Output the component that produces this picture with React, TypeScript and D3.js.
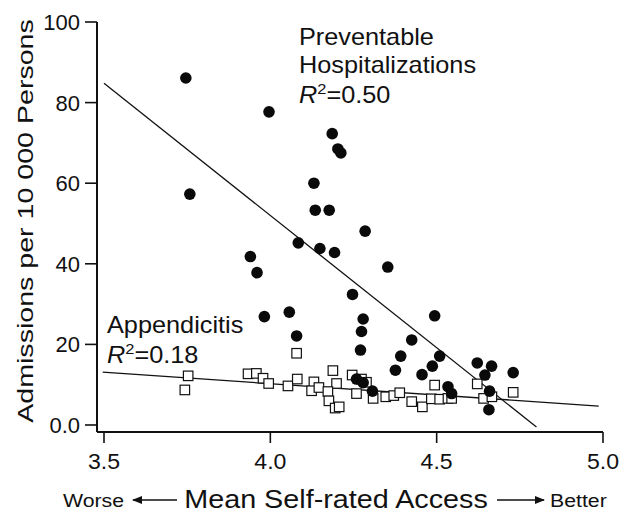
import React from "react";
import * as d3 from "d3";

// axis ticks
const xTicks = [3.5, 4.0, 4.5, 5.0];
const xTickLabels = ["3.5", "4.0", "4.5", "5.0"];
const yTicks = [0, 20, 40, 60, 80, 100];
const yTickLabels = ["0.0", "20", "40", "60", "80", "100"];

// preventable hospitalizations (filled dots)
const hospAccess = [
  3.746, 3.758, 3.996, 4.186, 4.203, 4.212, 4.131, 4.135, 4.177, 4.285,
  4.084, 4.149, 4.193, 3.94, 3.96, 4.247, 3.982, 4.057, 4.079, 4.279,
  4.274, 4.271, 4.259, 4.353, 4.494, 4.425, 4.509, 4.392, 4.487, 4.376,
  4.456, 4.622, 4.665, 4.645, 4.73, 4.279, 4.307, 4.534, 4.545, 4.659,
  4.657,
];
const hospRate = [
  86.1, 57.3, 77.7, 72.3, 68.5, 67.5, 60.0, 53.3, 53.3, 48.1,
  45.2, 43.8, 42.8, 41.8, 37.8, 32.4, 26.9, 28.0, 22.1, 26.3,
  23.2, 18.6, 11.4, 39.2, 27.1, 21.1, 17.1, 17.1, 14.6, 13.6,
  12.5, 15.4, 14.6, 12.4, 13.0, 10.5, 8.4, 9.5, 7.8, 8.4,
  3.8,
];

// appendicitis (open squares)
const appAccess = [
  3.753, 3.743, 4.079, 3.933, 3.958, 3.978, 3.995, 4.053, 4.081, 4.131,
  4.124, 4.146, 4.188, 4.199, 4.173, 4.176, 4.195, 4.207, 4.246, 4.259,
  4.274, 4.289, 4.309, 4.347, 4.371, 4.389, 4.425, 4.457, 4.484, 4.494,
  4.509, 4.534, 4.545, 4.622, 4.641, 4.666, 4.73,
];
const appRate = [
  12.2, 8.7, 17.8, 12.7, 12.8, 11.6, 10.3, 9.7, 11.4, 10.7,
  8.5, 9.3, 13.5, 10.3, 8.3, 6.0, 4.2, 4.5, 12.4, 7.8,
  11.4, 10.6, 6.6, 7.0, 7.3, 8.0, 5.8, 4.5, 6.5, 9.9,
  6.4, 6.6, 6.6, 10.2, 6.6, 7.0, 8.1,
];

// fitted lines
const hospFitX = [3.5, 4.8];
const hospFitY = [84.8, -0.5];
const appFitX = [3.496, 4.987];
const appFitY = [13.1, 4.7];

const FONT = "'Liberation Sans', Arial, Helvetica, sans-serif";
const INK = "#111";

// text with a horizontal stretch (the scanned type is set wider than Arial)
const T = ({ x, y, size, anchor = "start", rotate = 0, sx = 1.1, children }: any) => (
  <text
    transform={`translate(${x},${y})${rotate ? ` rotate(${rotate})` : ""} scale(${sx},1)`}
    fontSize={size}
    textAnchor={anchor}
    fill={INK}
  >
    {children}
  </text>
);

export default function App() {
  const width = 626;
  const height = 514;
  const axisX = 97; // y axis line
  const axisY = 432; // x axis line

  const x = d3.scaleLinear().domain([3.5, 5.0]).range([104, 603]);
  const y = d3.scaleLinear().domain([0, 100]).range([425, 22]);

  const line = d3
    .line<[number, number]>()
    .x((d) => x(d[0]))
    .y((d) => y(d[1]));

  const hospFit = line(hospFitX.map((v, i) => [v, hospFitY[i]]));
  const appFit = line(appFitX.map((v, i) => [v, appFitY[i]]));

  const sq = 9.5;

  return (
    <svg
      width={width}
      height={height}
      style={{ position: "absolute", left: 0, top: 0, background: "#fff" }}
      fontFamily={FONT}
    >
      <defs>
        <marker id="head" viewBox="0 0 10 10" refX="9" refY="5" markerWidth="7" markerHeight="7" orient="auto-start-reverse">
          <path d="M0,1 L10,5 L0,9 Z" fill={INK} />
        </marker>
      </defs>

      {/* axes */}
      <line x1={axisX} x2={axisX} y1={y(100)} y2={axisY} stroke={INK} strokeWidth={2} />
      <line x1={axisX} x2={x(5.0)} y1={axisY} y2={axisY} stroke={INK} strokeWidth={2} />
      {yTicks.map((t, i) => (
        <g key={"yt" + t}>
          <line x1={axisX - 12} x2={axisX} y1={y(t)} y2={y(t)} stroke={INK} strokeWidth={1.6} />
          <T x={axisX - 17} y={y(t) + 8} size={22} sx={1} anchor="end">
            {yTickLabels[i]}
          </T>
        </g>
      ))}
      {xTicks.map((t, i) => (
        <g key={"xt" + t}>
          <line x1={x(t)} x2={x(t)} y1={axisY} y2={axisY + 11} stroke={INK} strokeWidth={1.6} />
          <T x={x(t)} y={469} size={22} sx={1.05} anchor="middle">
            {xTickLabels[i]}
          </T>
        </g>
      ))}

      {/* axis titles */}
      <T x={33} y={221} size={22} sx={1.3} anchor="middle" rotate={-90}>
        Admissions per 10 000 Persons
      </T>
      <T x={63} y={507} size={18.5} sx={1.15}>Worse</T>
      <line x1={133} x2={177} y1={500} y2={500} stroke={INK} strokeWidth={1.5} markerStart="url(#head)" />
      <T x={336} y={508} size={25} sx={1.15} anchor="middle">
        Mean Self-rated Access
      </T>
      <line x1={497} x2={544} y1={500} y2={500} stroke={INK} strokeWidth={1.5} markerEnd="url(#head)" />
      <T x={550} y={507} size={18.5} sx={1.15}>Better</T>

      {/* fitted lines */}
      <path d={hospFit ?? ""} fill="none" stroke={INK} strokeWidth={1.3} />
      <path d={appFit ?? ""} fill="none" stroke={INK} strokeWidth={1.3} />

      {/* appendicitis squares */}
      {appAccess.map((v, i) => (
        <rect
          key={"a" + i}
          x={x(v) - sq / 2}
          y={y(appRate[i]) - sq / 2}
          width={sq}
          height={sq}
          fill="#fff"
          stroke={INK}
          strokeWidth={1.2}
        />
      ))}

      {/* preventable hospitalization dots */}
      {hospAccess.map((v, i) => (
        <circle key={"h" + i} cx={x(v)} cy={y(hospRate[i])} r={5.8} fill="#0a0a0a" />
      ))}

      {/* annotations */}
      <T x={299} y={45} size={23}>Preventable</T>
      <T x={299} y={73} size={23}>Hospitalizations</T>
      <T x={299} y={103} size={23}>
        <tspan fontStyle="italic">R</tspan>
        <tspan fontSize={15} dy={-9}>2</tspan>
        <tspan dy={9}>=0.50</tspan>
      </T>
      <T x={107} y={333} size={23}>Appendicitis</T>
      <T x={107} y={363} size={23}>
        <tspan fontStyle="italic">R</tspan>
        <tspan fontSize={15} dy={-9}>2</tspan>
        <tspan dy={9}>=0.18</tspan>
      </T>
    </svg>
  );
}
